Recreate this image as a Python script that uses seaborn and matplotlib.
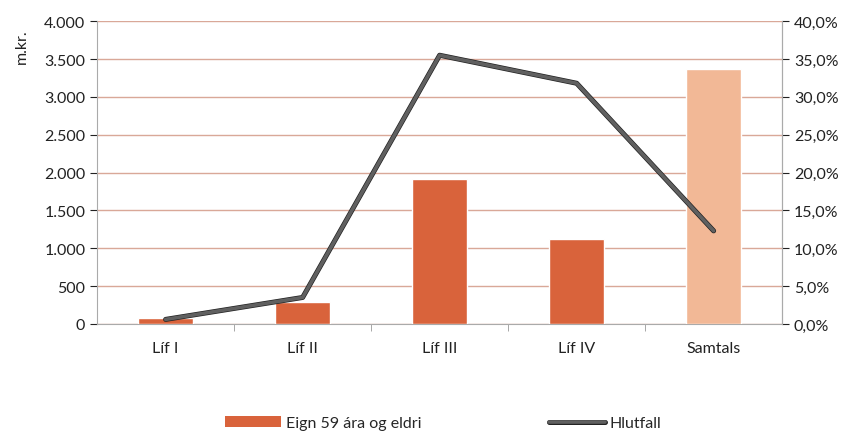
import matplotlib
matplotlib.use("Agg")
import matplotlib.pyplot as plt
import matplotlib.patheffects as pe
from matplotlib.patches import Patch
from matplotlib.lines import Line2D
import seaborn as sns
import pandas as pd

categories = ["Líf I", "Líf II", "Líf III", "Líf IV", "Samtals"]
eign = [80, 295, 1915, 1125, 3370]
hlutfall = [0.6, 3.5, 35.5, 31.8, 12.3]
bar_colors = ["#D9633B", "#D9633B", "#D9633B", "#D9633B", "#F2B896"]
left_ticks = [0, 500, 1000, 1500, 2000, 2500, 3000, 3500, 4000]
right_ticks = [0, 5, 10, 15, 20, 25, 30, 35, 40]

sns.set_style("white")
plt.rcParams["font.family"] = ["Lato", "DejaVu Sans"]

df = pd.DataFrame({"cat": categories, "eign": eign, "hlutfall": hlutfall})

fig = plt.figure(figsize=(8.52, 4.35), dpi=100)
ax = fig.add_axes([0.114, 0.253, 0.804, 0.696])

sns.barplot(data=df, x="cat", y="eign", hue="cat", palette=bar_colors,
            width=0.4, legend=False, ax=ax, saturation=1, zorder=3)
ax.set_ylim(0, 4000)
ax.set_yticks(left_ticks)
ax.set_yticklabels([f"{v:,}".replace(",", ".") for v in left_ticks], fontsize=11.5)
ax.set_xlim(-0.5, 4.5)
ax.set_xlabel("")
ax.set_ylabel("m.kr.", fontsize=11.5, color="#222222")
ax.yaxis.set_label_coords(-0.1, 0.92)
ax.tick_params(axis="x", labelsize=11.5, length=0, pad=12, colors="#222222")
ax.tick_params(axis="y", colors="#222222", length=5, direction="out", left=True)
for v in left_ticks:
    ax.axhline(v, color="#D9A898", lw=1.0, zorder=1)
# category boundary tick marks
ax.set_xticks([0, 1, 2, 3, 4])
ax.set_xticks([0.5, 1.5, 2.5, 3.5], minor=True)
ax.tick_params(axis="x", which="minor", length=5, direction="out", color="#999999", bottom=True)

for s in ["top"]:
    ax.spines[s].set_visible(False)
for s in ["left", "right", "bottom"]:
    ax.spines[s].set_color("#AAAAAA")
    ax.spines[s].set_linewidth(0.8)

ax2 = ax.twinx()
sns.lineplot(x=list(range(len(categories))), y=hlutfall, ax=ax2, color="#606060", lw=2.6,
             zorder=5, path_effects=[pe.Stroke(linewidth=3.6, foreground="#222222"), pe.Normal()])
ax2.set_ylim(0, 40)
ax2.set_yticks(right_ticks)
ax2.set_yticklabels([f"{v:.1f}%".replace(".", ",") for v in right_ticks], fontsize=11.5)
ax2.tick_params(axis="y", colors="#222222", length=5, direction="out", right=True)
ax2.set_xlim(-0.5, 4.5)
for s in ["top", "left", "bottom"]:
    ax2.spines[s].set_visible(False)
ax2.spines["right"].set_color("#AAAAAA")
ax2.spines["right"].set_linewidth(0.8)

handles = [Patch(facecolor="#D9633B", edgecolor="none"),
           Line2D([0], [0], color="#606060", lw=2.6,
                  path_effects=[pe.Stroke(linewidth=3.6, foreground="#222222"), pe.Normal()])]
fig.legend(handles, ["Eign 59 ára og eldri", "Hlutfall"], loc="center",
           bbox_to_anchor=(0.52, 0.025), ncol=2, frameon=False, fontsize=11.5,
           columnspacing=8, handlelength=3.5, handletextpad=0.3)

fig.savefig("out.png", dpi=100)
